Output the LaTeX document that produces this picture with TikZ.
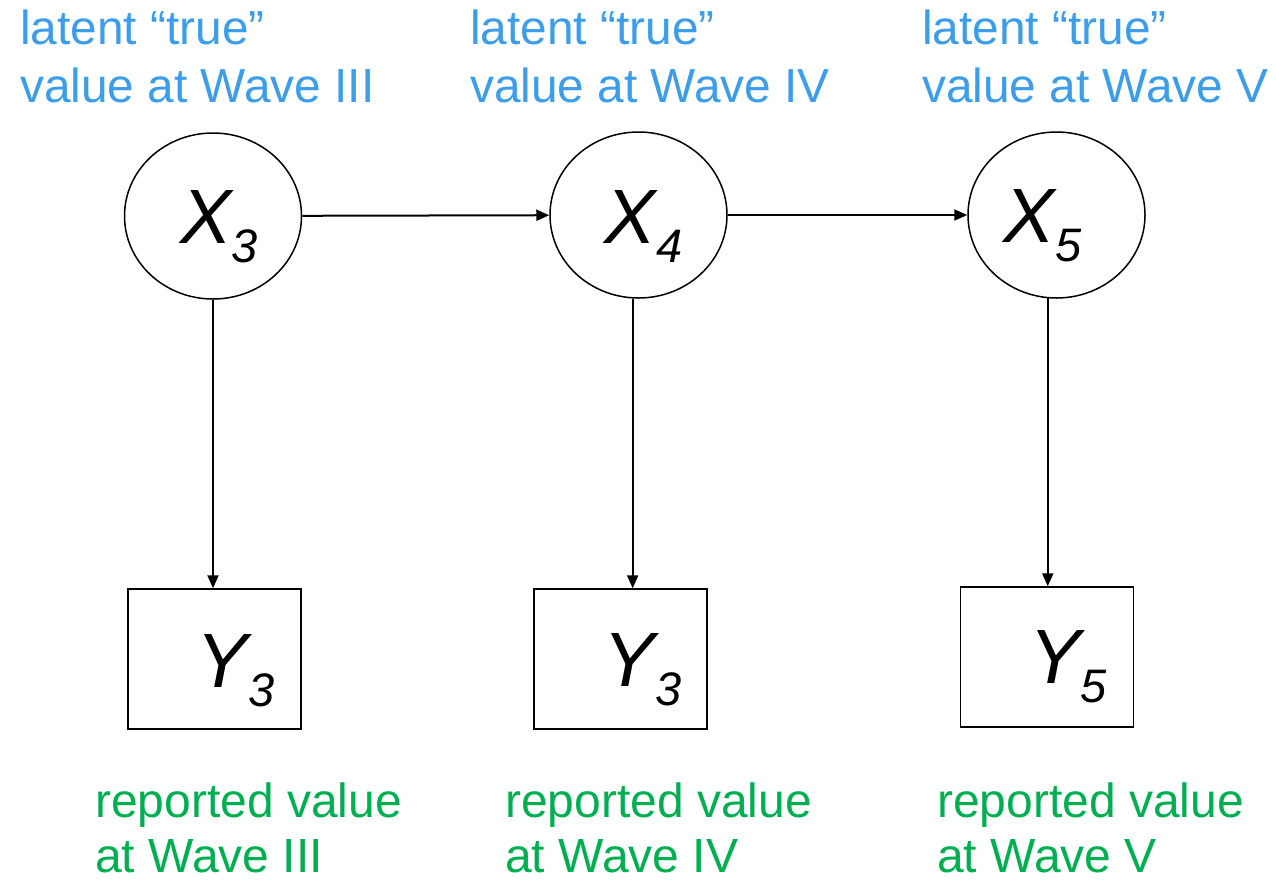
\documentclass[tikz,border=0pt]{standalone}
\usepackage{fontspec}
\setmainfont{Liberation Sans}
\usetikzlibrary{shapes.geometric,arrows.meta,calc}
\definecolor{lblue}{HTML}{3C9EEB}
\definecolor{lgreen}{HTML}{00B050}
\newcommand{\varlab}[2]{\fontsize{77}{77}\selectfont\itshape #1\raisebox{-19pt}{\fontsize{47}{47}\selectfont #2}}
\begin{document}
\begin{tikzpicture}[x=1pt,y=-1pt,
  latent/.style={ellipse,draw,line width=1.5pt,minimum width=177pt,minimum height=166pt,inner sep=0pt},
  obs/.style={rectangle,draw,line width=1.5pt,minimum width=173pt,minimum height=140pt,inner sep=0pt},
  varname/.style={anchor=base west,inner sep=0pt},
  toplab/.style={anchor=base west,inner sep=0pt,align=left,text=lblue,font=\fontsize{47.8}{58}\selectfont},
  botlab/.style={anchor=base west,inner sep=0pt,align=left,text=lgreen,text depth=0pt,font=\fontsize{48}{55}\selectfont},
  arr/.style={-{Triangle[length=13pt,width=11pt]},line width=2pt}]
\useasboundingbox (0,0) rectangle (1276,879);
\node[latent] (X3) at (213,216) {};
\node[latent] (X4) at (638.5,215) {};
\node[latent] (X5) at (1056.5,215) {};
\node[obs] (Y3) at (214.5,659) {};
\node[obs] (Y4) at (620.5,659) {};
\node[obs] (Y5) at (1047,657) {};
\node[varname] (X3l) at ($(X3.center)+(-33,27)$) {\varlab{X}{3}};
\node[varname] (X4l) at ($(X4.center)+(-34,28)$) {\varlab{X}{4}};
\node[varname] (X5l) at ($(X5.center)+(-53,27)$) {\varlab{X}{5}};
\node[varname] (Y3l) at ($(Y3.center)+(-18,28)$) {\varlab{Y}{3}};
\node[varname] (Y4l) at ($(Y4.center)+(-17,27)$) {\varlab{Y}{3}};
\node[varname] (Y5l) at ($(Y5.center)+(-18,26)$) {\varlab{Y}{5}};
\draw[arr] (X3) -- (X4);
\draw[arr] (X4) -- (X5);
\draw[arr] (X3.south) -- (X3.south |- Y3.north);
\draw[arr] (X4.-94) -- (X4.-94 |- Y4.north);
\draw[arr] (X5.-96) -- (X5.-96 |- Y5.north);
\node[toplab] (T3) at (20,102) {latent “true”\\value at Wave III};
\node[toplab] (T4) at (470,102) {latent “true”\\value at Wave IV};
\node[toplab] (T5) at (922,102) {latent “true”\\value at Wave V};
\node[botlab] (B3) at (95,872) {reported value\\at Wave III};
\node[botlab] (B4) at (505,872) {reported value\\at Wave IV};
\node[botlab] (B5) at (937,872) {reported value\\at Wave V};
\end{tikzpicture}
\end{document}
